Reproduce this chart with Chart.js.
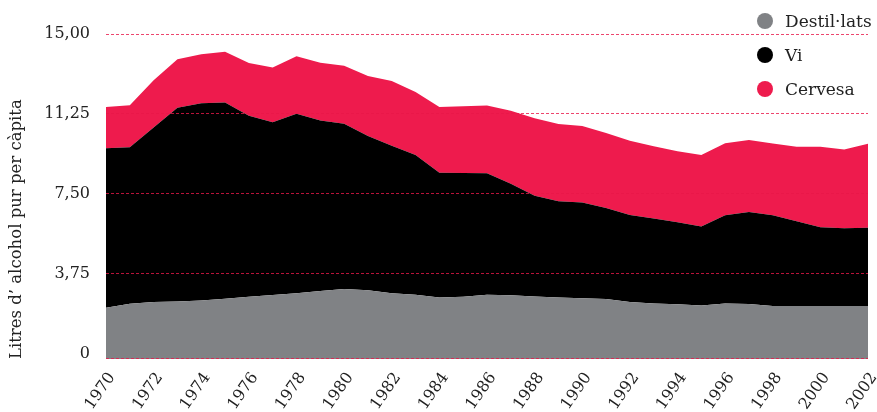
<!DOCTYPE html>
<html lang="ca">
  <head>
    <meta charset="UTF-8" />
    <title>Consum d'alcohol per càpita</title>
    <script src="https://cdn.jsdelivr.net/npm/chart.js"></script>
    <style>
      body {
        margin: 0;
        background: #fff;
        font-family: "DejaVu Serif", serif;
      }
      .wrap {
        position: relative;
        width: 877px;
        height: 412px;
      }
      .legend {
        position: absolute;
        left: 757px;
        top: 4px;
        list-style: none;
        margin: 0;
        padding: 0;
      }
      .legend li {
        display: flex;
        align-items: center;
        height: 34px;
        font-size: 17px;
        color: #222;
      }
      .legend .dot {
        width: 16px;
        height: 16px;
        border-radius: 50%;
        margin-right: 12px;
      }
    </style>
  </head>
  <body>
    <div class="wrap">
      <canvas id="alcoholChart" width="877" height="412"></canvas>
      <ul class="legend" id="legend"></ul>
    </div>

    <script>
      const years = [
        1970, 1971, 1972, 1973, 1974, 1975, 1976, 1977, 1978, 1979, 1980,
        1981, 1982, 1983, 1984, 1985, 1986, 1987, 1988, 1989, 1990, 1991,
        1992, 1993, 1994, 1995, 1996, 1997, 1998, 1999, 2000, 2001, 2002,
      ];
      // litres d'alcohol pur per càpita
      const destillats = [
        2.15, 2.34, 2.42, 2.45, 2.5, 2.58, 2.67, 2.75, 2.84, 2.94, 3.04,
        2.98, 2.84, 2.77, 2.63, 2.67, 2.76, 2.74, 2.68, 2.63, 2.6, 2.57,
        2.42, 2.35, 2.32, 2.26, 2.35, 2.33, 2.24, 2.24, 2.24, 2.24, 2.24,
      ];
      const vi = [
        7.49, 7.35, 8.19, 9.09, 9.25, 9.21, 8.49, 8.11, 8.42, 8.0, 7.75,
        7.23, 6.92, 6.55, 5.86, 5.81, 5.71, 5.23, 4.73, 4.52, 4.49, 4.26,
        4.09, 3.99, 3.85, 3.71, 4.14, 4.32, 4.26, 3.97, 3.69, 3.64, 3.67,
      ];
      const cervesa = [
        1.93, 1.97, 2.22, 2.27, 2.3, 2.38, 2.48, 2.57, 2.7, 2.71, 2.72,
        2.82, 3.03, 2.96, 3.09, 3.13, 3.18, 3.43, 3.64, 3.63, 3.59, 3.53,
        3.48, 3.39, 3.33, 3.35, 3.38, 3.38, 3.36, 3.5, 3.78, 3.7, 3.94,
      ];
      const yTicks = [0, 3.75, 7.5, 11.25, 15];

      const RED = "#ee1b4d";
      const GREY = "#808285";
      const BLACK = "#000000";
      const GRID = "rgba(232,22,72,0.8)";
      const FONT = "'DejaVu Serif', serif";

      const series = [
        { label: "Destil·lats", data: destillats, color: GREY, fill: "start" },
        { label: "Vi", data: vi, color: BLACK, fill: "-1" },
        { label: "Cervesa", data: cervesa, color: RED, fill: "-1" },
      ];

      // llegenda
      const legend = document.getElementById("legend");
      series.forEach((s) => {
        const li = document.createElement("li");
        li.innerHTML =
          '<span class="dot" style="background:' + s.color + '"></span>' + s.label;
        legend.appendChild(li);
      });

      // línia discontínua a la base de l'àrea del gràfic
      const baseLine = {
        id: "baseLine",
        afterDraw(chart) {
          const { ctx, chartArea } = chart;
          const y = Math.round(chartArea.bottom) - 0.5;
          ctx.save();
          ctx.strokeStyle = GRID;
          ctx.lineWidth = 1;
          ctx.setLineDash([3, 2]);
          ctx.beginPath();
          ctx.moveTo(chartArea.left, y);
          ctx.lineTo(chartArea.right, y);
          ctx.stroke();
          ctx.restore();
        },
      };

      const ctx = document.getElementById("alcoholChart").getContext("2d");
      new Chart(ctx, {
        type: "line",
        data: {
          labels: years,
          datasets: series.map((s) => ({
            label: s.label,
            data: s.data,
            backgroundColor: s.color,
            borderColor: s.color,
            borderWidth: 0,
            pointRadius: 0,
            tension: 0,
            fill: s.fill,
          })),
        },
        options: {
          responsive: false,
          animation: false,
          layout: { padding: { top: 34, right: 9, left: 0, bottom: 0 } },
          plugins: {
            legend: { display: false },
            tooltip: { enabled: false },
          },
          scales: {
            x: {
              grid: { display: false },
              border: { display: false },
              afterFit: (scale) => {
                scale.height = 53;
                scale.paddingLeft = 0;
                scale.paddingRight = 0;
              },
              ticks: {
                autoSkip: false,
                minRotation: 55,
                maxRotation: 55,
                padding: 2,
                labelOffset: 6,
                color: "#222",
                font: { family: FONT, size: 16 },
                callback: (val, i) => (years[i] % 2 === 0 ? String(years[i]) : ""),
              },
            },
            y: {
              stacked: true,
              min: -0.25,
              max: 15,
              afterBuildTicks: (axis) => {
                axis.ticks = yTicks.map((v) => ({ value: v }));
              },
              afterFit: (scale) => {
                scale.width = 106;
              },
              grid: {
                z: 1,
                drawTicks: false,
                lineWidth: 1,
                color: (c) => (c.tick && c.tick.value === 0 ? "rgba(0,0,0,0)" : GRID),
              },
              border: { display: false, dash: [3, 2] },
              ticks: {
                padding: 16,
                color: "#222",
                font: { family: FONT, size: 16 },
                callback: (v) => (v === 0 ? "0" : v.toFixed(2).replace(".", ",")),
              },
              title: {
                display: true,
                text: "Litres d’ alcohol pur per càpita",
                align: "start",
                color: "#222",
                font: { family: FONT, size: 16.5 },
                padding: { top: 7, bottom: 0 },
              },
            },
          },
        },
        plugins: [baseLine],
      });
    </script>
  </body>
</html>
